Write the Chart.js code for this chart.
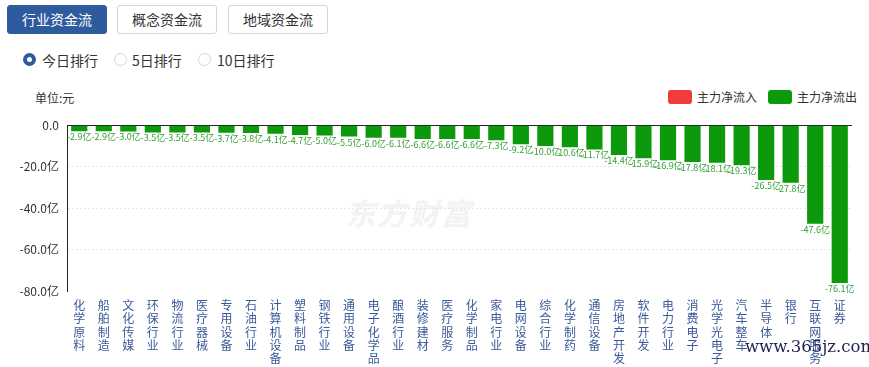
<!DOCTYPE html>
<html><head><meta charset="utf-8">
<script src="https://cdn.jsdelivr.net/npm/chart.js@4/dist/chart.umd.min.js"></script>
<style>
body{margin:0;width:869px;height:367px;overflow:hidden;background:#fff;font-family:"Noto Sans CJK SC","Noto Sans",sans-serif;position:relative;}
.btn{position:absolute;top:5px;height:29px;width:100px;box-sizing:border-box;border:1px solid #d4d4d4;border-radius:3px;font-size:14px;line-height:27px;text-align:center;color:#333;background:#fff;}
.btn.on{background:#2e5b9d;color:#fff;border-color:#2e5b9d;}
.circ{position:absolute;top:53px;width:13px;height:13px;border-radius:50%;border:1px solid #cfd6e0;box-sizing:border-box;background:#fff;}
.circ.on{border:4px solid #2e5b9d;}
.rt{position:absolute;top:50px;font-size:14px;line-height:20px;color:#333;white-space:nowrap;}
#unit{position:absolute;left:35px;top:89px;font-size:12px;color:#333;}
.lg{position:absolute;top:90px;width:24px;height:14px;border-radius:3px;}
.lgt{position:absolute;top:88px;font-size:12px;color:#333;line-height:17px;}
#wm{position:absolute;left:345px;top:190px;font-size:30px;font-weight:bold;font-style:italic;color:#f3f3f3;letter-spacing:2px;}
#site{position:absolute;left:745px;top:337px;font-family:"DejaVu Serif","Liberation Serif",serif;font-size:16.5px;color:#1e2250;}
canvas{position:absolute;left:0;top:110px;}
</style></head><body>
<div class="btn on" style="left:7px">行业资金流</div>
<div class="btn" style="left:117px">概念资金流</div>
<div class="btn" style="left:228px">地域资金流</div>
<div class="circ on" style="left:23px"></div><div class="rt" style="left:42px">今日排行</div>
<div class="circ" style="left:114px"></div><div class="rt" style="left:132px">5日排行</div>
<div class="circ" style="left:198px"></div><div class="rt" style="left:217px">10日排行</div>
<div id="unit">单位:元</div>
<div class="lg" style="left:668px;background:#f23b3b"></div><div class="lgt" style="left:697px">主力净流入</div>
<div class="lg" style="left:768px;background:#0c990c"></div><div class="lgt" style="left:797px">主力净流出</div>
<div id="wm">东方财富</div>
<canvas id="c" width="869" height="257"></canvas>
<div id="site">www.365jz.com</div>
<script>
const categories = ["化学原料","船舶制造","文化传媒","环保行业","物流行业","医疗器械","专用设备","石油行业","计算机设备","塑料制品","钢铁行业","通用设备","电子化学品","酿酒行业","装修建材","医疗服务","化学制品","家电行业","电网设备","综合行业","化学制药","通信设备","房地产开发","软件开发","电力行业","消费电子","光学光电子","汽车整车","半导体","银行","互联网服务","证券"];
const outflow = [-2.9,-2.9,-3.0,-3.5,-3.5,-3.5,-3.7,-3.8,-4.1,-4.7,-5.0,-5.5,-6.0,-6.1,-6.6,-6.6,-6.6,-7.3,-9.2,-10.0,-10.6,-11.7,-14.4,-15.9,-16.9,-17.8,-18.1,-19.3,-26.5,-27.8,-47.6,-76.1];
const inflow = categories.map(() => null);
const yTicks = [0,-20,-40,-60,-80];

const valueLabels = {
  id:'valueLabels',
  afterDatasetsDraw(chart){
    const ctx = chart.ctx; const meta = chart.getDatasetMeta(1);
    ctx.save();
    ctx.font = '9px "Noto Sans CJK SC", sans-serif';
    ctx.fillStyle = '#34a034'; ctx.textAlign='center'; ctx.textBaseline='top';
    meta.data.forEach((el,i)=>{
      ctx.fillText(outflow[i].toFixed(1)+'亿', el.x, el.y+1);
    });
    ctx.restore();
  }
};
const zeroLine = {
  id:'zeroLine',
  beforeDatasetsDraw(chart){
    const ctx=chart.ctx, a=chart.chartArea, y=Math.round(chart.scales.y.getPixelForValue(0))+0.5;
    ctx.save(); ctx.strokeStyle='#222'; ctx.lineWidth=1;
    ctx.beginPath(); ctx.moveTo(a.left,y); ctx.lineTo(a.right,y); ctx.stroke(); ctx.restore();
  }
};

new Chart(document.getElementById('c'), {
  type:'bar',
  data:{
    labels: categories.map(s => s.split('')),
    datasets:[
      {label:'主力净流入', data:inflow, backgroundColor:'#f23b3b'},
      {label:'主力净流出', data:outflow, backgroundColor:'#0c990c', categoryPercentage:0.66, barPercentage:1}
    ]
  },
  options:{
    responsive:false, animation:false,
    layout:{padding:{top:15,right:17,left:0,bottom:0}},
    plugins:{legend:{display:false}, tooltip:{enabled:false}},
    scales:{
      x:{stacked:true, grid:{display:false}, border:{display:false},
         afterFit(s){s.height=76;},
         ticks:{autoSkip:false,maxRotation:0,minRotation:0,padding:0,color:'#3a5a9a',
                font:{size:12,family:'"Noto Sans CJK SC", sans-serif',lineHeight:1.1}}},
      y:{min:-80,max:0,
         afterFit(s){s.width=67;},
         afterBuildTicks(s){s.ticks = yTicks.map(v=>({value:v}));},
         ticks:{padding:8,color:'#333',font:{size:12,family:'"Noto Sans CJK SC", sans-serif'},
                callback:(v)=> v===0 ? '0.0' : v.toFixed(1)+'亿'},
         grid:{drawTicks:false, color:(c)=> (c.tick && (c.tick.value===0||c.tick.value===-80)) ? 'rgba(0,0,0,0)' : '#e6e6e6'},
         border:{display:true,color:'#222',width:1,dash:[2,2]}}
    }
  },
  plugins:[zeroLine,valueLabels]
});
</script>
</body></html>
